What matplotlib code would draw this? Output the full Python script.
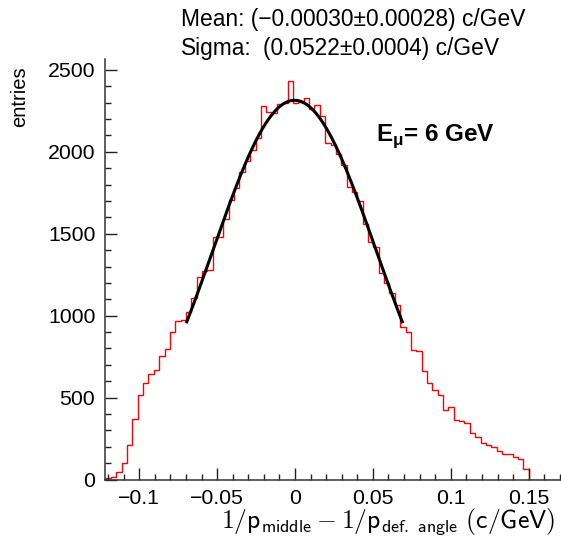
import numpy as np
import matplotlib.pyplot as plt
from matplotlib.ticker import MultipleLocator

plt.rcParams['font.family'] = ['Liberation Sans', 'DejaVu Sans']

# histogram contents, bins of width 0.0034375 starting at -0.125
counts = [5, 8, 17, 47, 103, 210, 367, 514, 587, 641,
          669, 755, 799, 903, 965, 975, 1022, 1106, 1238, 1270,
          1280, 1482, 1482, 1588, 1706, 1778, 1879, 1945, 2012, 2083,
          2280, 2245, 2236, 2292, 2297, 2433, 2297, 2302, 2330, 2260,
          2284, 2217, 2052, 2042, 1987, 1920, 1788, 1757, 1702, 1560,
          1452, 1418, 1259, 1202, 1137, 1065, 930, 899, 790, 782,
          664, 587, 544, 513, 422, 440, 366, 356, 346, 282,
          261, 225, 211, 197, 176, 154, 156, 139, 123, 62,
          0, 0, 0, 0, 0, 0, 0, 0]
bin_lo = -0.125
bin_w = 0.0034375

# gaussian fit
fit_amp = 2315
fit_mean = -0.0003
fit_sigma = 0.0522
fit_range = (-0.0698, 0.0692)

xticks = [-0.1, -0.05, 0, 0.05, 0.1, 0.15]
xlabels = ['\u22120.1', '\u22120.05', '0', '0.05', '0.1', '0.15']
yticks = [0, 500, 1000, 1500, 2000, 2500]

fig = plt.figure(figsize=(5.61, 5.38), dpi=100)
ax = fig.add_axes([105/561, 58.5/538, 1 - 105/561, 0.781])

vals = np.array(counts, dtype=float)
edges = bin_lo + bin_w*np.arange(len(vals) + 1)
ax.stairs(vals, edges, color='#ff0000', lw=1.0, baseline=None)

xf = np.linspace(fit_range[0], fit_range[1], 300)
ax.plot(xf, fit_amp*np.exp(-0.5*((xf - fit_mean)/fit_sigma)**2), color='black', lw=2.2,
        solid_capstyle='butt')

ax.set_xlim(-0.12195, 0.17073)
ax.set_ylim(0, 2565)
ax.set_xticks(xticks)
ax.set_xticklabels(xlabels)
ax.set_yticks(yticks)
ax.xaxis.set_minor_locator(MultipleLocator(0.01))
ax.yaxis.set_minor_locator(MultipleLocator(100))
ax.tick_params(which='both', direction='in', labelsize=15.3, width=1, color='#222222')
ax.tick_params(which='major', length=8.8)
ax.tick_params(which='minor', length=4.4)
ax.tick_params(axis='x', which='major', pad=7)
ax.tick_params(axis='y', which='major', pad=7)
ax.spines['top'].set_visible(False)
ax.spines['right'].set_visible(False)
for s in ('left', 'bottom'):
    ax.spines[s].set_color('#333333')
    ax.spines[s].set_linewidth(1.1)

fig.text(20/561, 1 - 66/538, 'entries', rotation=90, ha='center', va='top', fontsize=14.5)
fig.text(0.99, 1 - 522/538,
         r'$1/\mathsf{p}_{\mathsf{middle}} - 1/\mathsf{p}_{\mathsf{def.\ angle}}\ \mathsf{(c/GeV)}$',
         ha='right', va='center', fontsize=18.5, math_fontfamily='cm')

fig.text(181/561, 1 - 26/538, 'Mean: (\u22120.00030\u00b10.00028) c/GeV', fontsize=16.4, va='baseline')
fig.text(181/561, 1 - 55/538, 'Sigma:', fontsize=16.4, va='baseline')
fig.text(263/561, 1 - 55/538, '(0.0522\u00b10.0004) c/GeV', fontsize=16.4, va='baseline')

fig.text(376/561, 1 - 141/538, r'E$_{\mathregular{\mu}}$= 6 GeV', fontsize=17.5, fontweight='bold',
         va='baseline')

fig.savefig('out.png', dpi=100)
